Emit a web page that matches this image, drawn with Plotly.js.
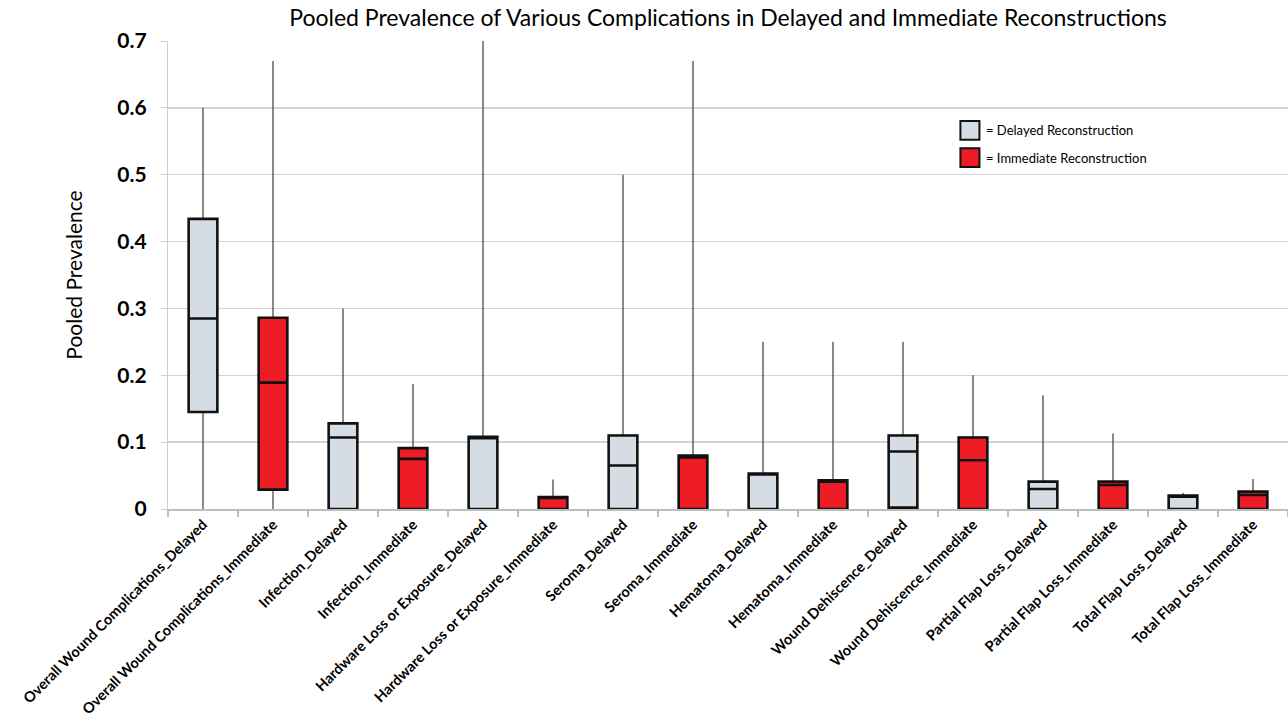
<!DOCTYPE html>
<html>
<head>
<meta charset="utf-8">
<script src="https://cdn.plot.ly/plotly-3.0.1.min.js"></script>
<style>
  html, body { margin: 0; padding: 0; background: #ffffff; }
  #chart { width: 1288px; height: 724px; }
</style>
</head>
<body>
<div id="chart"></div>
<script>
// Complication categories, alternating delayed / immediate reconstruction
const categories = [
  "Overall Wound Complications_Delayed",
  "Overall Wound Complications_Immediate",
  "Infection_Delayed",
  "Infection_Immediate",
  "Hardware Loss or Exposure_Delayed",
  "Hardware Loss or Exposure_Immediate",
  "Seroma_Delayed",
  "Seroma_Immediate",
  "Hematoma_Delayed",
  "Hematoma_Immediate",
  "Wound Dehiscence_Delayed",
  "Wound Dehiscence_Immediate",
  "Partial Flap Loss_Delayed",
  "Partial Flap Loss_Immediate",
  "Total Flap Loss_Delayed",
  "Total Flap Loss_Immediate"
];
const groups = ["Delayed", "Immediate", "Delayed", "Immediate", "Delayed", "Immediate",
                "Delayed", "Immediate", "Delayed", "Immediate", "Delayed", "Immediate",
                "Delayed", "Immediate", "Delayed", "Immediate"];

// Pooled prevalence summary statistics per category
const minValues    = [0, 0, 0, 0, 0, 0, 0, 0, 0, 0, 0, 0, 0, 0, 0, 0];
const q1Values     = [0.145, 0.029, 0, 0, 0, 0, 0, 0, 0, 0, 0.002, 0, 0, 0, 0, 0];
const medianValues = [0.285, 0.189, 0.107, 0.075, 0.106, 0.017, 0.065, 0.077, 0.052, 0.041, 0.086, 0.073, 0.030, 0.036, 0.0185, 0.021];
const q3Values     = [0.434, 0.286, 0.128, 0.091, 0.108, 0.018, 0.110, 0.080, 0.053, 0.043, 0.110, 0.107, 0.041, 0.041, 0.020, 0.026];
const maxValues    = [0.60, 0.67, 0.30, 0.187, 0.70, 0.044, 0.50, 0.67, 0.25, 0.25, 0.25, 0.20, 0.17, 0.113, 0.024, 0.045];

const yTickValues = [0, 0.1, 0.2, 0.3, 0.4, 0.5, 0.6, 0.7];
const yTickLabels = ["0", "0.1", "0.2", "0.3", "0.4", "0.5", "0.6", "0.7"];

const FILL = { Delayed: "#d6dce4", Immediate: "#ed1c24" };
const LEGEND_TEXT = { Delayed: "= Delayed Reconstruction", Immediate: "= Immediate Reconstruction" };
const FONT = "Lato, 'Open Sans', 'Noto Sans', sans-serif";
const BOX_WIDTH = 0.41;

function pick(arr, g) {
  return arr.filter((_, i) => groups[i] === g);
}

const traces = [];
// Thin whiskers (min..max) underneath
["Delayed", "Immediate"].forEach(g => {
  traces.push({
    type: "box",
    x: pick(categories, g),
    q1: pick(q1Values, g),
    median: pick(medianValues, g),
    q3: pick(q3Values, g),
    lowerfence: pick(minValues, g),
    upperfence: pick(maxValues, g),
    width: BOX_WIDTH,
    whiskerwidth: 0,
    line: { color: "#3c3c3c", width: 1.2 },
    fillcolor: "rgba(0,0,0,0)",
    boxpoints: false,
    showlegend: false,
    hoverinfo: "skip"
  });
});
// Thick outlined boxes (q1..q3 with median) on top
["Delayed", "Immediate"].forEach(g => {
  traces.push({
    type: "box",
    name: g,
    x: pick(categories, g),
    q1: pick(q1Values, g),
    median: pick(medianValues, g),
    q3: pick(q3Values, g),
    lowerfence: pick(q1Values, g),
    upperfence: pick(q3Values, g),
    width: BOX_WIDTH,
    whiskerwidth: 0,
    line: { color: "#111111", width: 2.6 },
    fillcolor: FILL[g],
    boxpoints: false,
    showlegend: false
  });
});

// Legend drawn as swatches with labels
const legendShapes = [];
const legendNotes = [];
["Delayed", "Immediate"].forEach((g, k) => {
  const yTop = 0.829 - k * 0.058;
  legendShapes.push({
    type: "rect", xref: "paper", yref: "paper",
    x0: 0.7075, x1: 0.7245, y0: yTop - 0.040, y1: yTop,
    fillcolor: FILL[g], line: { color: "#111111", width: 2 }
  });
  legendNotes.push({
    xref: "paper", yref: "paper", x: 0.729, y: yTop - 0.020,
    xanchor: "left", yanchor: "middle", showarrow: false,
    text: LEGEND_TEXT[g],
    font: { family: FONT, size: 13, color: "#000000" }
  });
});

const layout = {
  width: 1288,
  height: 724,
  margin: { l: 168, r: 0, t: 41, b: 215, pad: 0 },
  paper_bgcolor: "#ffffff",
  plot_bgcolor: "#ffffff",
  boxmode: "overlay",
  showlegend: false,
  title: {
    text: "Pooled Prevalence of Various Complications in Delayed and Immediate Reconstructions",
    x: 0.5, xref: "paper", xanchor: "center",
    y: 0.975, yref: "container", yanchor: "middle",
    font: { family: FONT, size: 23, color: "#000000" }
  },
  xaxis: {
    type: "category",
    categoryorder: "array",
    categoryarray: categories,
    range: [-0.5, 15.5],
    tickangle: -45,
    tickson: "boundaries",
    ticks: "outside",
    ticklen: 6,
    tickcolor: "#bdbdbd",
    tickwidth: 1.2,
    showline: true,
    linecolor: "#bdbdbd",
    linewidth: 1.5,
    showgrid: false,
    zeroline: false,
    tickfont: { family: FONT, size: 14.5, color: "#000000", weight: "bold" }
  },
  yaxis: {
    range: [0, 0.7],
    tickmode: "array",
    tickvals: yTickValues,
    ticktext: yTickLabels,
    ticks: "outside",
    ticklen: 6,
    tickcolor: "#d0d0d0",
    ticklabelstandoff: 10,
    showline: true,
    linecolor: "#d0d0d0",
    linewidth: 1.2,
    showgrid: true,
    gridcolor: "#d3d3d3",
    gridwidth: 1.5,
    zeroline: false,
    tickfont: { family: FONT, size: 21, color: "#000000", weight: "bold" },
    title: {
      text: "Pooled Prevalence",
      standoff: 28,
      font: { family: FONT, size: 21, color: "#000000" }
    }
  },
  shapes: legendShapes,
  annotations: legendNotes
};

Plotly.newPlot("chart", traces, layout, { displayModeBar: false, staticPlot: true });
</script>
</body>
</html>
